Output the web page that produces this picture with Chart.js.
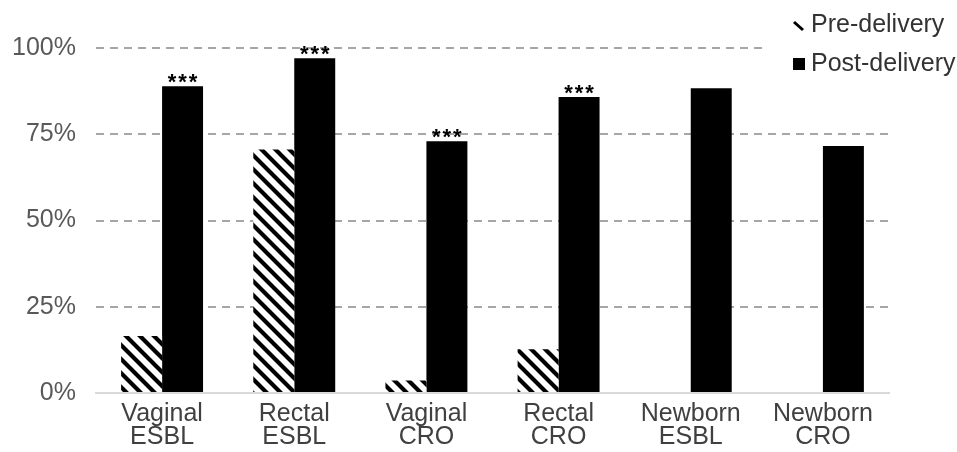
<!DOCTYPE html>
<html lang="en">
<head>
  <meta charset="UTF-8">
  <title>Pre- vs post-delivery colonisation</title>
  <script src="https://cdn.jsdelivr.net/npm/chart.js"></script>
  <style>
    html, body { margin: 0; padding: 0; background: #fff; }
    #wrap { width: 957px; height: 452px; }
  </style>
</head>
<body>
  <div id="wrap"><canvas id="chart" width="957" height="452"></canvas></div>

  <script>
    // data (percent)
    const categories = [['Vaginal', 'ESBL'], ['Rectal', 'ESBL'], ['Vaginal', 'CRO'], ['Rectal', 'CRO'], ['Newborn', 'ESBL'], ['Newborn', 'CRO']];
    const preDelivery = [16.5, 70.6, 3.6, 12.7, 0, 0];
    const postDelivery = [88.9, 97.0, 73.0, 85.8, 88.3, 71.6];
    const stars = ['***', '***', '***', '***', '', ''];
    const yTicks = [0, 25, 50, 75, 100];
    const seriesNames = ['Pre-delivery', 'Post-delivery'];

    const FONT = '"Liberation Sans", Arial, sans-serif';

    // diagonal hatch, black on white
    function makeHatch() {
      const c = document.createElement('canvas');
      const s = 14;
      c.width = s; c.height = s;
      const g = c.getContext('2d');
      g.fillStyle = '#fff';
      g.fillRect(0, 0, s, s);
      g.strokeStyle = '#000';
      g.lineWidth = 4.2;
      g.beginPath();
      g.moveTo(-3, -3); g.lineTo(s + 3, s + 3);
      g.moveTo(-3, s - 3); g.lineTo(3, s + 3);
      g.moveTo(s - 3, -3); g.lineTo(s + 3, 3);
      g.stroke();
      return g.createPattern(c, 'repeat');
    }
    const hatch = makeHatch();

    // stars above post-delivery bars + legend top right
    const extras = {
      id: 'extras',
      afterDatasetsDraw(chart) {
        const ctx = chart.ctx;
        const meta = chart.getDatasetMeta(1);
        ctx.save();
        ctx.fillStyle = '#000';
        ctx.font = 'bold 22px ' + FONT;
        ctx.textAlign = 'center';
        ctx.textBaseline = 'alphabetic';
        meta.data.forEach((bar, i) => {
          const n = stars[i].length;
          for (let k = 0; k < n; k++) {
            ctx.fillText('*', bar.x + (k - (n - 1) / 2) * 10.5, bar.y + 3);
          }
        });
        ctx.restore();
      },
      afterDraw(chart) {
        const ctx = chart.ctx;
        ctx.save();
        // white legend box covering the grid behind it
        ctx.fillStyle = '#fff';
        ctx.fillRect(762, 8, 195, 75);
        // pre-delivery marker: a single short slash
        ctx.strokeStyle = '#000';
        ctx.lineWidth = 3;
        ctx.beginPath();
        ctx.moveTo(794, 22); ctx.lineTo(803, 30);
        ctx.stroke();
        // post-delivery marker
        ctx.fillStyle = '#000';
        ctx.fillRect(793, 58, 12, 12);
        ctx.fillStyle = '#333';
        ctx.font = '25px ' + FONT;
        ctx.textAlign = 'left';
        ctx.textBaseline = 'middle';
        ctx.fillText(seriesNames[0], 811, 25);
        ctx.fillText(seriesNames[1], 811, 64);
        ctx.restore();
      }
    };

    const ctx = document.getElementById('chart').getContext('2d');
    new Chart(ctx, {
      type: 'bar',
      data: {
        labels: categories,
        datasets: [{
          label: seriesNames[0],
          data: preDelivery,
          backgroundColor: hatch,
          borderWidth: 0
        }, {
          label: seriesNames[1],
          data: postDelivery,
          backgroundColor: '#000',
          borderWidth: 0
        }]
      },
      options: {
        responsive: false,
        animation: false,
        devicePixelRatio: 1,
        layout: { padding: { top: 48, right: 68, bottom: 0, left: 0 } },
        datasets: { bar: { categoryPercentage: 0.62, barPercentage: 1.0 } },
        plugins: { legend: { display: false }, tooltip: { enabled: false } },
        scales: {
          x: {
            grid: { display: false },
            border: { display: true, color: '#d9d9d9', width: 2 },
            ticks: { color: '#404040', font: { family: FONT, size: 25, lineHeight: 0.92 }, padding: 2, maxRotation: 0 },
            afterFit(scale) { scale.height = 452 - 393; }
          },
          y: {
            min: 0, max: 100,
            afterBuildTicks(scale) { scale.ticks = yTicks.map(v => ({ value: v })); },
            grid: {
              color: c => c.tick && c.tick.value === 0 ? 'rgba(0,0,0,0)' : '#a6a6a6',
              lineWidth: 2,
              drawTicks: false
            },
            border: { display: false, dash: [8, 6] },
            ticks: {
              color: '#595959',
              font: { family: FONT, size: 25 },
              padding: 20,
              callback: v => v + '%'
            },
            afterFit(scale) { scale.width = 96; }
          }
        }
      },
      plugins: [extras]
    });
  </script>
</body>
</html>
